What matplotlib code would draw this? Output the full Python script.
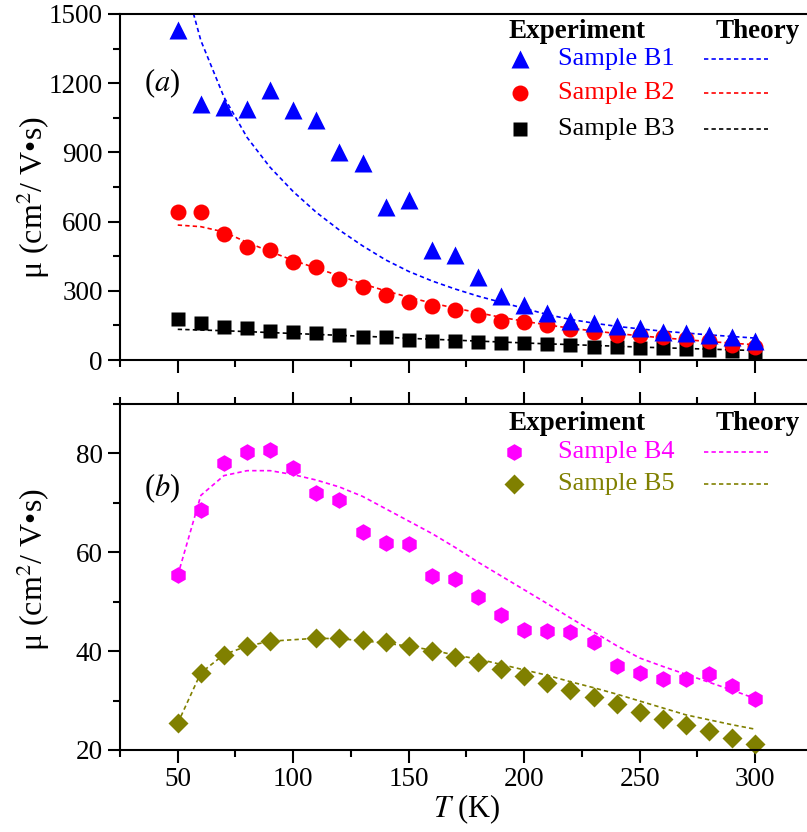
import numpy as np
import matplotlib
matplotlib.use("Agg")
import matplotlib.pyplot as plt
from matplotlib.ticker import MultipleLocator

plt.rcParams['font.family'] = ['Liberation Serif', 'DejaVu Serif']
plt.rcParams['mathtext.fontset'] = 'stix'

# temperatures (K)
T = np.arange(50, 301, 10)

# panel (a) experiment
b1_exp = [1430, 1110, 1095, 1090, 1170, 1085, 1040, 900, 852, 662, 693, 477, 455, 361,
          277, 240, 202, 170, 162, 147, 137, 123, 118, 108, 98, 84]
b2_exp = [643, 643, 545, 491, 477, 423, 405, 350, 318, 282, 253, 234, 217, 195,
          170, 166, 152, 134, 123, 108, 108, 101, 91, 84, 65, 58]
b3_exp = [178, 162, 144, 137, 127, 120, 118, 108, 101, 98, 87, 84, 84, 79,
          75, 72, 68, 65, 58, 55, 53, 51, 46, 43, 40, 36]
# panel (a) theory
b1_th = [1750, 1385, 1140, 965, 835, 730, 640, 563, 495, 434, 384, 343, 308, 277,
         250, 224, 197, 176, 160, 146, 135, 125, 117, 109, 102, 95]
b2_th = [585, 578, 555, 510, 470, 432, 398, 365, 330, 300, 272, 247, 225, 205,
         185, 168, 152, 138, 126, 115, 105, 96, 88, 80, 73, 66]
b3_th = [133, 130, 127, 123, 119, 115, 111, 107, 103, 99, 94, 90, 86, 82,
         78, 74, 70, 67, 63, 60, 56, 53, 50, 47, 44, 41]

# panel (b) experiment
b4_exp = [55.3, 68.6, 78.0, 80.2, 80.7, 77.1, 71.9, 70.5, 64.1, 61.8, 61.6, 55.2, 54.6, 50.9,
          47.4, 44.2, 44.1, 43.8, 41.8, 37.0, 35.5, 34.4, 34.3, 35.3, 33.0, 30.4]
b5_exp = [25.4, 35.6, 39.3, 41.1, 42.0, np.nan, 42.7, 42.6, 42.3, 41.8, 41.0, 40.1, 38.9, 37.7,
          36.4, 35.0, 33.5, 32.1, 30.7, 29.2, 27.6, 26.3, 25.1, 23.8, 22.4, 21.3]
# panel (b) theory
b4_th = [55.3, 71.5, 75.5, 76.5, 76.5, 75.7, 74.6, 73.2, 71.3, 68.8, 66.3, 63.8, 61.0, 58.0,
         55.2, 52.4, 49.6, 46.7, 43.9, 41.1, 38.6, 36.9, 35.3, 33.7, 32.1, 30.4]
b5_th = [25.4, 35.6, 39.3, 41.0, 42.0, 42.3, 42.6, 42.5, 42.1, 41.6, 41.0, 40.2, 39.2, 38.4,
         37.3, 36.2, 35.1, 33.8, 32.6, 31.3, 29.9, 28.5, 27.1, 26.1, 25.1, 24.2]

OLIVE = '#808000'
DASH = (0, (2.6, 1.9))

fig = plt.figure(figsize=(8.07, 8.32), dpi=100)
ax1 = fig.add_axes([0.1487, 0.5673, 0.8587, 0.4159])
ax2 = fig.add_axes([0.1487, 0.0986, 0.8587, 0.4159])


def style_axis(ax):
    ax.set_xlim(25, 325)
    ax.xaxis.set_major_locator(MultipleLocator(50))
    ax.xaxis.set_minor_locator(MultipleLocator(25))
    for s in ax.spines.values():
        s.set_linewidth(1.5)
    ax.spines['right'].set_visible(False)
    ax.tick_params(which='both', direction='out', width=1.5, labelsize=19.5, right=False)
    ax.tick_params(which='major', length=9)
    ax.tick_params(which='minor', length=5)
    ax.set_ylabel('μ (cm$^2$/ V•s)', fontsize=23)


style_axis(ax1)
style_axis(ax2)

# panel (a)
ax1.set_ylim(0, 1500)
ax1.yaxis.set_major_locator(MultipleLocator(300))
ax1.yaxis.set_minor_locator(MultipleLocator(150))
ax1.tick_params(axis='x', which='both', top=False, bottom=True, labelbottom=False)
ax1.yaxis.set_label_coords(-0.098, 0.47)

ax1.plot(T, b1_th, color='blue', lw=1.2, ls=DASH)
ax1.plot(T, b2_th, color='red', lw=1.2, ls=DASH)
ax1.plot(T, b3_th, color='black', lw=1.2, ls=DASH)
ax1.plot(T, b3_exp, 's', color='black', ms=9.6, mec='none')
ax1.plot(T, b2_exp, 'o', color='red', ms=11.5, mec='none')
ax1.plot(T, b1_exp, '^', color='blue', ms=13, mec='none', clip_on=False)

ax1.text(0.034, 0.8, '($a$)', transform=ax1.transAxes, fontsize=22, va='center')

# panel (b)
ax2.set_ylim(20, 90)
ax2.yaxis.set_major_locator(MultipleLocator(20))
ax2.yaxis.set_minor_locator(MultipleLocator(10))
ax2.tick_params(axis='x', which='both', top=True, bottom=True)
ax2.set_xlabel('$T$ (K)', fontsize=22, labelpad=0)
ax2.yaxis.set_label_coords(-0.098, 0.52)

ax2.plot(T, b4_th, color='magenta', lw=1.2, ls=DASH)
ax2.plot(T, b5_th, color=OLIVE, lw=1.2, ls=DASH)
ax2.plot(T, b4_exp, 'h', color='magenta', ms=12, mec='none')
ax2.plot(T, b5_exp, 'D', color=OLIVE, ms=10.2, mec='none', clip_on=False)

ax2.text(0.034, 0.755, '($b$)', transform=ax2.transAxes, fontsize=22, va='center')


def legend_block(ax, rows, y_head, x_mark):
    ax.text(0.56, y_head, 'Experiment', transform=ax.transAxes, fontsize=19.5,
            fontweight='bold', va='center')
    ax.text(0.86, y_head, 'Theory', transform=ax.transAxes, fontsize=19.5,
            fontweight='bold', va='center')
    for label, color, marker, ms, y in rows:
        ax.plot([x_mark], [y], marker, color=color, ms=ms, mec='none',
                transform=ax.transAxes, clip_on=False)
        ax.text(0.632, y, label, transform=ax.transAxes, fontsize=19, color=color,
                va='center')
        ax.plot([0.843, 0.935], [y, y], color=color, lw=1.2, ls=DASH,
                transform=ax.transAxes, clip_on=False)


legend_block(ax1, [('Sample B1', 'blue', '^', 13, 0.87),
                   ('Sample B2', 'red', 'o', 11.5, 0.772),
                   ('Sample B3', 'black', 's', 9.6, 0.668)], 0.948, 0.577)
legend_block(ax2, [('Sample B4', 'magenta', 'h', 12, 0.862),
                   ('Sample B5', OLIVE, 'D', 10.2, 0.769)], 0.944, 0.569)

fig.savefig('out.png', dpi=100)
